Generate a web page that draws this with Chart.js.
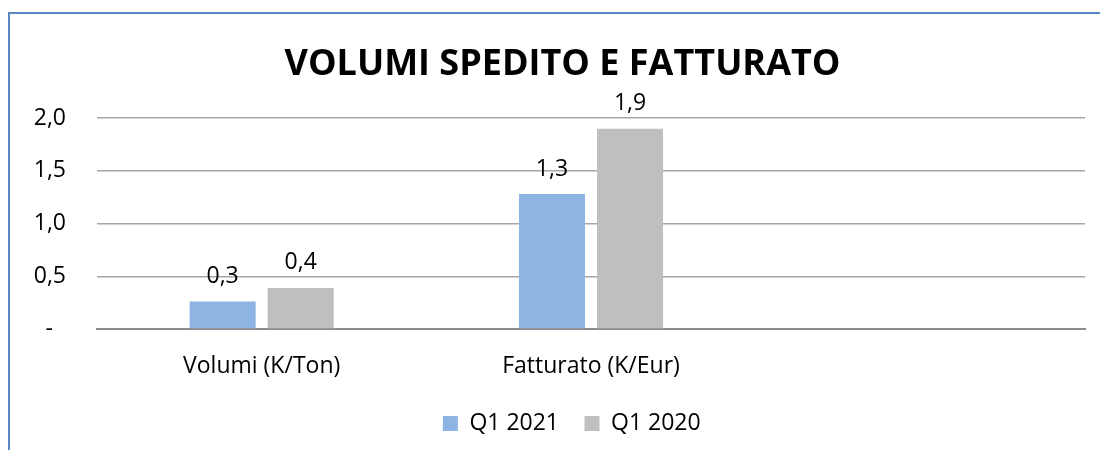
<!DOCTYPE html>
<html>
<head>
<meta charset="utf-8">
<script src="https://cdn.jsdelivr.net/npm/chart.js@4.4.0/dist/chart.umd.min.js"></script>
<style>
  html, body { margin: 0; padding: 0; background: #fff; }
  #wrap { position: relative; width: 1100px; height: 450px; }
  #frame { position: absolute; left: 8px; top: 12px; right: 0; bottom: 0;
           border-left: 2px solid #5b87c4; border-top: 2px solid #5b87c4; }
  canvas { position: absolute; left: 0; top: 0; }
</style>
</head>
<body>
<div id="wrap">
  <div id="frame"></div>
  <canvas id="myChart" width="1100" height="450"></canvas>
</div>
<script>
// Chart data
const categories = ['Volumi (K/Ton)', 'Fatturato (K/Eur)', ''];
const q1_2021 = [0.26, 1.28, null];
const q1_2020 = [0.39, 1.9, null];
const seriesNames = ['Q1 2021', 'Q1 2020'];
const yTicks = [0, 0.5, 1.0, 1.5, 2.0];

const FONT = '"Open Sans", Lato, sans-serif';
const TXT = 23;

// Format numbers Italian style, with a dash for zero
function fmt(v) {
    if (v === 0) return '-\u2007';
    return v.toFixed(1).replace('.', ',');
}

// Plugin that writes the value above each bar
const barValues = {
    id: 'barValues',
    afterDatasetsDraw(chart) {
        const ctx = chart.ctx;
        ctx.save();
        ctx.font = TXT + 'px ' + FONT;
        ctx.fillStyle = '#000';
        ctx.textAlign = 'center';
        ctx.textBaseline = 'middle';
        chart.data.datasets.forEach((ds, i) => {
            chart.getDatasetMeta(i).data.forEach((bar, j) => {
                const v = ds.data[j];
                if (v == null) return;
                ctx.fillText(fmt(v), bar.x, bar.y - 25);
            });
        });
        ctx.restore();
    }
};

// Nudge title and legend a bit to the right, like the original
const nudge = {
    id: 'nudge',
    afterLayout(chart) {
        if (chart.titleBlock) chart.titleBlock.left += 40;
        if (chart.legend) chart.legend.left += 70;
    }
};

const ctx = document.getElementById('myChart').getContext('2d');
const myChart = new Chart(ctx, {
    type: 'bar',
    data: {
        labels: categories,
        datasets: [{
            label: seriesNames[0],
            data: q1_2021,
            backgroundColor: '#8eb4e3',
            categoryPercentage: 0.474,
            barPercentage: 0.846
        }, {
            label: seriesNames[1],
            data: q1_2020,
            backgroundColor: '#bfbfbf',
            categoryPercentage: 0.474,
            barPercentage: 0.846
        }]
    },
    options: {
        responsive: false,
        animation: false,
        layout: { padding: { left: 0, right: 15, top: 0, bottom: 5 } },
        scales: {
            x: {
                grid: { display: false, drawTicks: false },
                border: { color: '#8c8c8c', width: 2 },
                ticks: { color: '#000', font: { size: TXT, family: FONT }, padding: 24 },
                afterFit: (scale) => { scale.height = 69; }
            },
            y: {
                min: 0,
                max: 2,
                afterBuildTicks: (scale) => { scale.ticks = yTicks.map(v => ({ value: v })); },
                grid: { color: '#a6a6a6', lineWidth: 1.5, drawTicks: false },
                border: { display: false },
                ticks: {
                    color: '#000',
                    font: { size: TXT, family: FONT },
                    padding: 31,
                    callback: (v) => fmt(v)
                },
                afterFit: (scale) => { scale.width = 97; }
            }
        },
        plugins: {
            title: {
                display: true,
                text: 'VOLUMI SPEDITO E FATTURATO',
                color: '#000',
                font: { size: 36, weight: 'bold', family: FONT },
                padding: { top: 43, bottom: 32 }
            },
            legend: {
                position: 'bottom',
                labels: {
                    color: '#000',
                    boxWidth: 15,
                    boxHeight: 15,
                    font: { size: TXT, family: FONT },
                    padding: 14,
                    generateLabels: (chart) => {
                        const items = Chart.defaults.plugins.legend.labels.generateLabels(chart);
                        items.forEach(it => { it.text = it.text + '\u2002'; it.lineWidth = 0; });
                        return items;
                    }
                }
            },
            tooltip: { enabled: false }
        }
    },
    plugins: [barValues, nudge]
});
</script>
</body>
</html>
